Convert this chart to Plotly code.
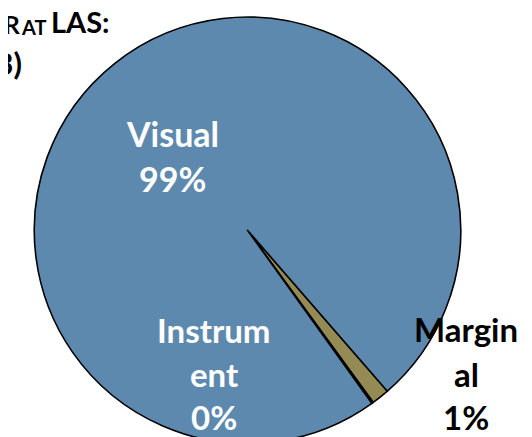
import plotly.graph_objects as go

W, H = 532, 437

labels = ["Marginal", "Instrument", "Visual"]
values = [1.35, 0.12, 98.53]
label_lines = [["Margin", "al", "1%"], ["Instrum", "ent", "0%"], ["Visual", "99%"]]
colors = ["#948A54", "#000000", "#5E89AE"]

# title (cropped in the reference): pieces of the first line, then the second line
title_parts = ["HUMAN FACTOR", "AT", "LAS:"]
title_line2 = "(2003)"

def px(x):
    return x / W

def py(y):
    return 1 - y / H

fig = go.Figure(go.Pie(
    labels=labels,
    values=values,
    sort=False,
    direction="clockwise",
    rotation=139,
    marker=dict(colors=colors, line=dict(color="#000000", width=1.6)),
    textinfo="none",
    showlegend=False,
    domain=dict(x=[px(26), px(453)], y=[py(435.5), py(9)]),
))

# label layout: x centre, y of each line (pixels), colour, font size
label_layout = {
    "Visual": (164, [125, 170], "white", 34),
    "Instrument": (206, [322, 366, 409], "white", 33),
    "Marginal": (458, [321, 366, 409], "black", 33),
}
for lab, lines in zip(labels, label_lines):
    cx, ys, col, fs = label_layout[lab]
    for line, yy in zip(lines, ys):
        fig.add_annotation(
            x=px(cx), y=py(yy), xref="paper", yref="paper",
            text="<b>" + line + "</b>", showarrow=False,
            xanchor="center", yanchor="middle", align="center",
            font=dict(family="Lato", size=fs, color=col),
        )

# title pieces: right edge x, centre y, font size
title_layout = [(14.5, 16, 25), (40, 19, 20), (103.5, 13.5, 29)]
for part, (rx, cy, fs) in zip(title_parts, title_layout):
    fig.add_annotation(
        x=px(rx), y=py(cy), xref="paper", yref="paper",
        text="<b>" + part + "</b>", showarrow=False,
        xanchor="right", yanchor="middle", align="right",
        font=dict(family="Lato", size=fs, color="black"),
    )
fig.add_annotation(
    x=px(16), y=py(55), xref="paper", yref="paper",
    text="<b>" + title_line2 + "</b>", showarrow=False,
    xanchor="right", yanchor="middle", align="right",
    font=dict(family="Lato", size=31, color="black"),
)

fig.update_layout(
    width=W, height=H,
    margin=dict(l=0, r=0, t=0, b=0),
    paper_bgcolor="white", plot_bgcolor="white",
)

fig.write_html("out.html")
